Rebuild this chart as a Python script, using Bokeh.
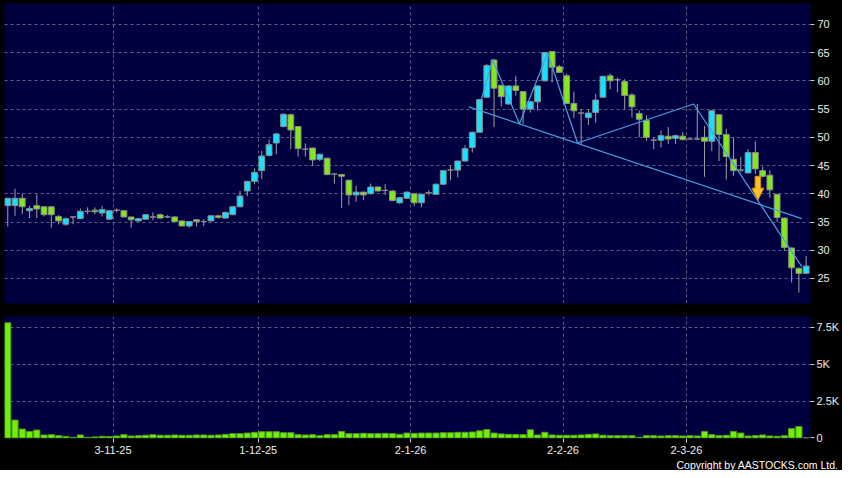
from bokeh.plotting import figure
from bokeh.models import ColumnDataSource, Range1d, FixedTicker, Title
from bokeh.layouts import column
from bokeh.embed import file_html
from bokeh.resources import INLINE

# ---------------- data ----------------
opens = [37.9, 37.9, 39.2, 37.0, 37.9, 37.7, 37.7, 36.0, 34.6, 35.9,
         35.6, 36.9, 37.1, 36.6, 35.5, 37.1, 37.0, 35.9, 35.2, 35.5,
         35.9, 36.3, 35.9, 35.9, 35.2, 34.3, 35.4, 35.1, 35.2, 36.1,
         35.7, 36.3, 37.7, 40.5, 42.2, 44.1, 46.8, 49.0, 51.9, 54.0,
         51.9, 47.9, 48.1, 46.1, 46.3, 43.5, 43.4, 42.4, 39.8, 40.3,
         40.0, 41.2, 40.6, 40.5, 38.4, 39.2, 40.0, 38.4, 40.2, 39.9,
         41.7, 44.2, 44.2, 45.8, 48.2, 50.9, 57.1, 63.7, 59.2, 55.9,
         59.1, 58.1, 55.0, 56.3, 60.0, 65.2, 62.5, 60.9, 56.0, 54.3,
         53.5, 54.4, 57.1, 60.9, 60.2, 59.9, 57.5, 54.2, 53.0, 49.5,
         49.5, 50.2, 49.8, 50.2, 49.7, 49.7, 50.0, 49.3, 54.0, 50.5,
         46.1, 44.2, 43.7, 47.3, 44.1, 43.3, 39.9, 35.7, 30.4, 26.8,
         25.9]
highs = [39.3, 40.9, 40.0, 37.9, 39.9, 37.8, 37.8, 36.2, 35.8, 36.0,
         37.4, 37.6, 37.6, 37.8, 37.1, 37.4, 37.1, 35.9, 35.7, 36.4,
         36.7, 36.5, 36.2, 36.0, 35.3, 35.2, 35.5, 35.5, 36.2, 36.2,
         36.8, 37.8, 40.5, 42.3, 44.5, 47.6, 49.6, 50.8, 54.2, 54.2,
         52.0, 48.9, 48.2, 47.1, 46.4, 43.6, 43.5, 42.5, 41.4, 40.4,
         41.8, 41.3, 41.7, 40.6, 39.4, 40.4, 40.1, 40.0, 40.6, 41.8,
         44.2, 45.0, 45.9, 48.6, 51.0, 56.8, 63.0, 63.9, 59.3, 59.2,
         60.9, 58.2, 56.4, 59.2, 65.1, 65.3, 62.8, 61.3, 58.1, 55.0,
         55.0, 57.7, 60.9, 61.3, 60.6, 60.3, 57.8, 54.8, 53.9, 50.0,
         51.2, 51.8, 50.5, 50.9, 49.8, 55.9, 52.0, 54.8, 54.1, 51.5,
         50.0, 46.5, 47.9, 49.3, 44.8, 44.2, 40.0, 35.8, 30.5, 26.9,
         29.0]
lows = [34.2, 36.1, 36.4, 35.7, 35.7, 36.0, 34.0, 34.6, 34.3, 34.6,
        35.5, 36.4, 36.4, 36.0, 35.4, 36.7, 35.8, 34.0, 35.1, 35.4,
        35.3, 35.6, 35.7, 35.0, 34.2, 34.0, 34.2, 34.3, 35.1, 35.6,
        35.6, 36.2, 37.6, 39.6, 41.7, 42.6, 46.6, 47.0, 51.8, 47.9,
        46.6, 46.6, 45.0, 45.8, 43.3, 41.8, 37.5, 38.0, 38.6, 38.9,
        39.9, 40.4, 39.8, 38.7, 38.2, 39.1, 37.8, 37.6, 39.7, 39.8,
        41.6, 42.4, 42.9, 45.7, 47.3, 50.8, 57.0, 51.8, 55.5, 55.8,
        57.4, 52.4, 54.4, 54.7, 59.9, 59.7, 61.4, 55.9, 53.4, 48.8,
        52.2, 52.6, 57.0, 58.5, 58.0, 55.0, 53.5, 50.0, 49.4, 47.9,
        48.2, 48.8, 48.8, 49.4, 49.6, 49.6, 43.0, 47.6, 45.8, 42.5,
        43.2, 43.8, 43.6, 43.5, 42.9, 39.3, 35.0, 29.9, 24.3, 22.5,
        25.8]
closes = [39.2, 39.2, 37.7, 37.4, 37.3, 36.3, 36.3, 35.2, 35.6, 35.9,
          36.9, 36.9, 36.8, 37.2, 37.0, 37.1, 35.9, 35.4, 35.6, 36.3,
          35.9, 35.7, 35.9, 35.1, 34.3, 35.1, 35.1, 35.1, 36.1, 35.8,
          36.7, 37.7, 39.6, 42.2, 43.8, 46.7, 48.7, 50.6, 54.1, 51.3,
          48.0, 47.9, 46.0, 47.0, 43.4, 43.5, 43.1, 39.8, 40.3, 39.8,
          41.2, 40.5, 40.6, 38.8, 39.3, 40.3, 38.4, 39.9, 40.2, 41.7,
          44.1, 44.2, 45.8, 48.0, 50.9, 56.7, 62.7, 58.7, 57.2, 59.1,
          58.3, 55.0, 56.3, 59.1, 65.0, 62.4, 61.5, 56.0, 54.7, 54.3,
          54.3, 56.6, 60.8, 60.0, 60.2, 57.4, 55.4, 53.2, 50.0, 49.5,
          50.3, 49.7, 50.3, 49.6, 49.7, 49.7, 49.3, 54.7, 50.5, 46.6,
          44.1, 44.2, 47.3, 44.4, 43.1, 40.7, 35.8, 30.5, 26.9, 25.9,
          27.2]
volumes = [7800, 1210, 600, 440, 530, 200, 220, 150, 110, 40,
           200, 40, 70, 110, 90, 130, 220, 130, 150, 180,
           220, 180, 180, 200, 180, 180, 200, 200, 180, 200,
           240, 290, 290, 330, 380, 420, 420, 420, 350, 350,
           220, 200, 220, 150, 220, 220, 440, 290, 290, 310,
           290, 290, 310, 290, 240, 330, 310, 330, 330, 330,
           350, 350, 380, 380, 400, 480, 570, 330, 270, 240,
           240, 220, 550, 200, 380, 200, 180, 180, 180, 200,
           240, 270, 180, 150, 150, 150, 150, 40, 150, 150,
           130, 150, 150, 130, 150, 130, 440, 220, 150, 180,
           440, 330, 130, 150, 200, 130, 110, 150, 630, 770,
           0]

month_ticks = [14.5, 34.5, 55.5, 76.5, 93.5]
month_labels = ["3-11-25", "1-12-25", "2-1-26", "2-2-26", "2-3-26"]
price_ticks = [25, 30, 35, 40, 45, 50, 55, 60, 65, 70]
vol_ticks = [0, 2500, 5000, 7500]
vol_labels = ["0", "2.5K", "5K", "7.5K"]

# trend lines drawn on the chart (candle index, price)
trend_x = [63.5, 109.4]
trend_y = [55.4, 35.6]
zigzag_x = [65.2, 66.8, 70.5, 74.4, 78.5, 94.5, 109.4]
zigzag_y = [56.5, 63.7, 52.4, 64.9, 49.0, 55.9, 27.1]
# down arrow signal
arrow_x = 103.35
arrow_top = 43.1
arrow_base = 41.0
arrow_tip = 38.9

copyright_text = "Copyright by AASTOCKS.com Ltd."

# ---------------- styles ----------------
NAVY = "#000040"
UP = "#14E2FF"
DOWN = "#84E61C"
FLAT = "#9A9A9A"
EDGE = "#8C8C8C"
WICK = "#A0A0A0"
VOL = "#72EE0C"
VOL_EDGE = "#4E9E16"
GRID = "#5E5E84"
TXT = "#EDEDED"
TREND = "#45A2E0"
FONT = "Liberation Sans"

n = len(opens)
idx = list(range(n))
colors = [UP if c > o else (DOWN if c < o else FLAT) for o, c in zip(opens, closes)]
src = ColumnDataSource(dict(
    x=idx, o=opens, h=highs, l=lows, c=closes,
    top=[max(o, c) for o, c in zip(opens, closes)],
    bottom=[min(o, c) for o, c in zip(opens, closes)],
    color=colors, vol=volumes))

xr = Range1d(-0.45, 110.6)


def style_common(p):
    p.grid.grid_line_color = GRID
    p.grid.grid_line_dash = "3 3"
    p.grid.grid_line_width = 1
    p.xgrid.ticker = FixedTicker(ticks=month_ticks)


def style_axis(ax, standoff):
    ax.axis_line_color = None
    ax.major_tick_line_color = "#C8C8C8"
    ax.major_tick_out = 4
    ax.major_tick_in = 0
    ax.minor_tick_line_color = None
    ax.major_label_standoff = standoff
    ax.major_label_text_color = TXT
    ax.major_label_text_font = FONT
    ax.major_label_text_font_size = "11px"


# ---------------- price panel ----------------
p1 = figure(width=842, height=309, x_range=xr, y_range=Range1d(20.57, 73.7),
            output_backend="svg", toolbar_location=None,
            x_axis_location=None, y_axis_location="right",
            min_border_left=4, min_border_right=32, min_border_top=3,
            min_border_bottom=6, background_fill_color=NAVY,
            border_fill_color="black", outline_line_color=None)
style_common(p1)
p1.ygrid.ticker = FixedTicker(ticks=price_ticks)
p1.yaxis.ticker = FixedTicker(ticks=price_ticks)
style_axis(p1.yaxis, 3)

p1.segment(x0="x", y0="l", x1="x", y1="h", source=src, line_color=WICK, line_width=1)
p1.vbar(x="x", top="top", bottom="bottom", width=0.8, source=src,
        fill_color="color", line_color=EDGE, line_width=1)

p1.line(trend_x, trend_y, line_color=TREND, line_width=1.2)
p1.line(zigzag_x, zigzag_y, line_color=TREND, line_width=1.2)

sw, hw = 0.38, 0.82
p1.patch([arrow_x - sw, arrow_x + sw, arrow_x + sw, arrow_x + hw, arrow_x,
          arrow_x - hw, arrow_x - sw],
         [arrow_top, arrow_top, arrow_base, arrow_base, arrow_tip,
          arrow_base, arrow_base],
         fill_color="#FFC21E", line_color="#E08A00", line_width=1)

# ---------------- volume panel ----------------
p2 = figure(width=842, height=161, x_range=xr, y_range=Range1d(-40, 8230),
            output_backend="svg", toolbar_location=None,
            y_axis_location="right",
            min_border_left=4, min_border_right=32, min_border_top=7,
            min_border_bottom=0, background_fill_color=NAVY,
            border_fill_color="black", outline_line_color=None)
style_common(p2)
p2.ygrid.ticker = FixedTicker(ticks=vol_ticks[1:])
p2.yaxis.ticker = FixedTicker(ticks=vol_ticks)
p2.yaxis.major_label_overrides = {t: s for t, s in zip(vol_ticks, vol_labels)}
p2.xaxis.ticker = FixedTicker(ticks=month_ticks)
p2.xaxis.major_label_overrides = {t: s for t, s in zip(month_ticks, month_labels)}
style_axis(p2.yaxis, 2)
style_axis(p2.xaxis, 3)

p2.vbar(x="x", top="vol", bottom=0, width=0.85, source=src,
        fill_color=VOL, line_color=VOL_EDGE, line_width=1)

p2.add_layout(Title(text=copyright_text, align="right", offset=-28,
                    text_color="#FFFFFF", text_font=FONT,
                    text_font_size="10.5px", text_font_style="normal",
                    standoff=0), "below")

layout = column(p1, p2, spacing=0, styles={"background-color": "black"})

open("out.html", "w").write(file_html(layout, INLINE))
